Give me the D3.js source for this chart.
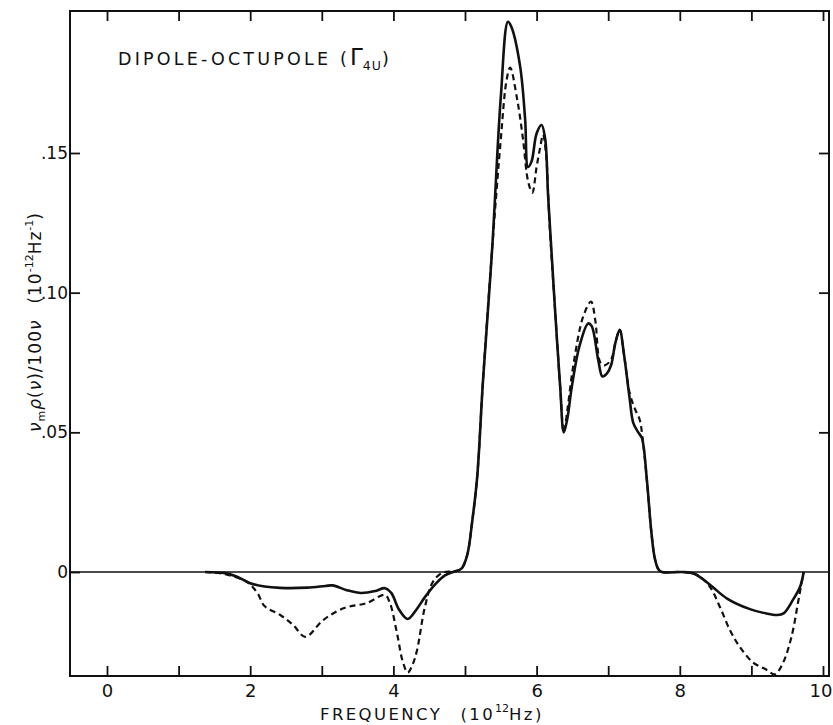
<!DOCTYPE html>
<html>
<head>
<meta charset="utf-8">
<script src="https://cdn.jsdelivr.net/npm/d3@7"></script>
<style>
  body { margin: 0; background: #fff; }
  text { font-family: "DejaVu Sans", sans-serif; fill: #111; }
</style>
</head>
<body>
<svg id="chart" width="833" height="725"></svg>
<script>
// frequency (10^12 Hz) and value for the solid curve
const solidFreq = [1.37, 1.65, 1.8, 2.0, 2.2, 2.42, 2.8, 3.05, 3.15, 3.35, 3.55, 3.75, 3.88, 3.97,
  4.08, 4.2, 4.32, 4.44, 4.58, 4.72, 4.85, 4.95, 5.03, 5.1, 5.17, 5.25, 5.38, 5.5, 5.6, 5.65,
  5.77, 5.84, 5.88, 5.93, 6.0, 6.07, 6.12, 6.16, 6.2, 6.26, 6.33, 6.38, 6.43, 6.49, 6.6, 6.72,
  6.77, 6.86, 6.92, 6.98, 7.04, 7.1, 7.16, 7.22, 7.3, 7.35, 7.42, 7.47, 7.54, 7.6, 7.65, 7.7,
  7.75, 8.04, 8.2, 8.32, 8.46, 8.66, 8.98, 9.2, 9.36, 9.45, 9.58, 9.68, 9.73];
const solidVal = [0, -0.0004, -0.0015, -0.004, -0.0052, -0.0057, -0.0056, -0.005, -0.0048, -0.0065,
  -0.0075, -0.0068, -0.0058, -0.0075, -0.0135, -0.0168, -0.0135, -0.009, -0.0045, -0.0012, 0.0002,
  0.0012, 0.006, 0.018, 0.034, 0.068, 0.116, 0.17, 0.197, 0.195, 0.181, 0.162, 0.145, 0.147, 0.157,
  0.16, 0.155, 0.135, 0.118, 0.093, 0.066, 0.05, 0.055, 0.066, 0.081, 0.089, 0.088, 0.076, 0.07,
  0.071, 0.074, 0.082, 0.0867, 0.078, 0.062, 0.0534, 0.05, 0.048, 0.033, 0.015, 0.005, 0.001, 0,
  0, -0.0006, -0.0025, -0.0054, -0.0095, -0.0133, -0.0148, -0.0154, -0.0148, -0.01, -0.0053, 0];

// dashed curve
const dashedFreq = [1.37, 1.65, 1.95, 2.1, 2.2, 2.42, 2.6, 2.77, 3.02, 3.3, 3.63, 3.88, 3.95, 4.05,
  4.13, 4.2, 4.27, 4.33, 4.44, 4.55, 4.69, 4.85, 4.95, 5.03, 5.1, 5.17, 5.25, 5.38, 5.5, 5.58, 5.63,
  5.73, 5.81, 5.88, 5.94, 6.0, 6.05, 6.09, 6.13, 6.18, 6.26, 6.33, 6.38, 6.43, 6.51, 6.65, 6.76,
  6.82, 6.89, 6.95, 7.04, 7.1, 7.16, 7.22, 7.3, 7.38, 7.44, 7.48, 7.54, 7.6, 7.65, 7.7, 7.75, 8.04,
  8.24, 8.42, 8.56, 8.7, 8.84, 9.02, 9.21, 9.33, 9.44, 9.56, 9.65, 9.7, 9.73];
const dashedVal = [0, -0.0008, -0.0035, -0.0075, -0.0122, -0.0154, -0.019, -0.0232, -0.0172, -0.013,
  -0.0111, -0.0082, -0.011, -0.0219, -0.032, -0.036, -0.033, -0.028, -0.0125, -0.0036, -0.0002,
  0.0002, 0.0012, 0.006, 0.018, 0.034, 0.068, 0.116, 0.155, 0.176, 0.1806, 0.169, 0.155, 0.14,
  0.1358, 0.145, 0.152, 0.1566, 0.15, 0.125, 0.093, 0.066, 0.05, 0.058, 0.0735, 0.0914, 0.0968,
  0.09, 0.075, 0.074, 0.076, 0.082, 0.0867, 0.078, 0.064, 0.058, 0.0545, 0.048, 0.033, 0.015,
  0.005, 0.001, 0, 0, -0.001, -0.0053, -0.0125, -0.0208, -0.0269, -0.0323, -0.035, -0.0366,
  -0.0326, -0.0232, -0.0111, -0.004, 0];

const xTicks = [0, 1, 2, 3, 4, 5, 6, 7, 8, 9, 10];
const xTickLabels = ['0', '2', '4', '6', '8', '10'];
const yTicks = [0.05, 0.10, 0.15];
const yTickLabels = ['0', '.05', '.10', '.15'];

const FRAME = {left: 70, right: 829, top: 11, bottom: 676};
const TICK_LEN = 10;

const svg = d3.select('#chart');

const x = d3.scaleLinear().domain([0, 10]).range([107, 823]);
const y = d3.scaleLinear().domain([0, 0.15]).range([572, 153]);

// frame
svg.append('rect')
    .attr('x', FRAME.left)
    .attr('y', FRAME.top)
    .attr('width', FRAME.right - FRAME.left)
    .attr('height', FRAME.bottom - FRAME.top)
    .attr('fill', 'none')
    .attr('stroke', '#111')
    .attr('stroke-width', 2);

// zero line
svg.append('line')
    .attr('x1', FRAME.left).attr('x2', FRAME.right)
    .attr('y1', y(0)).attr('y2', y(0))
    .attr('stroke', '#111').attr('stroke-width', 1.6);

// bottom and top ticks (inward)
svg.append('g')
    .attr('transform', `translate(0,${FRAME.bottom})`)
    .call(d3.axisBottom(x).tickValues(xTicks).tickSizeInner(-TICK_LEN).tickSizeOuter(0)
        .tickFormat(d => (d % 2 === 0 ? xTickLabels[d / 2] : '')))
    .call(g => g.select('.domain').remove())
    .call(g => g.selectAll('line').attr('stroke', '#111').attr('stroke-width', 1.8))
    .call(g => g.selectAll('text').attr('font-size', 18).attr('dy', '1.05em').attr('y', 2))
    // the last label sits at the right edge, keep it inside
    .call(g => g.selectAll('text').filter(d => d === 10).attr('text-anchor', 'end').attr('x', 9));

svg.append('g')
    .attr('transform', `translate(0,${FRAME.top})`)
    .call(d3.axisTop(x).tickValues(xTicks).tickSizeInner(-TICK_LEN).tickSizeOuter(0).tickFormat(''))
    .call(g => g.select('.domain').remove())
    .call(g => g.selectAll('line').attr('stroke', '#111').attr('stroke-width', 1.8));

// left and right ticks (inward)
svg.append('g')
    .attr('transform', `translate(${FRAME.left},0)`)
    .call(d3.axisLeft(y).tickValues([0].concat(yTicks)).tickSizeInner(-TICK_LEN).tickSizeOuter(0)
        .tickFormat((d, i) => yTickLabels[i]))
    .call(g => g.select('.domain').remove())
    .call(g => g.selectAll('line').attr('stroke', '#111').attr('stroke-width', 1.8))
    .call(g => g.selectAll('text').attr('font-size', 17).attr('x', -2));

svg.append('g')
    .attr('transform', `translate(${FRAME.right},0)`)
    .call(d3.axisRight(y).tickValues(yTicks).tickSizeInner(-TICK_LEN).tickSizeOuter(0).tickFormat(''))
    .call(g => g.select('.domain').remove())
    .call(g => g.selectAll('line').attr('stroke', '#111').attr('stroke-width', 1.8));

// curves
const line = d3.line()
    .x(d => x(d[0]))
    .y(d => y(d[1]))
    .curve(d3.curveCatmullRom.alpha(0.5));

svg.append('path')
    .datum(dashedFreq.map((f, i) => [f, dashedVal[i]]))
    .attr('d', line)
    .attr('fill', 'none')
    .attr('stroke', '#111')
    .attr('stroke-width', 2.2)
    .attr('stroke-dasharray', '6,4');

svg.append('path')
    .datum(solidFreq.map((f, i) => [f, solidVal[i]]))
    .attr('d', line)
    .attr('fill', 'none')
    .attr('stroke', '#111')
    .attr('stroke-width', 2.6);

// title inside plot
const title = svg.append('text')
    .attr('x', 118)
    .attr('y', 65)
    .attr('font-size', 17.5)
    .attr('letter-spacing', 3.2);
title.append('tspan').text('DIPOLE-OCTUPOLE (');
title.append('tspan').attr('font-size', 23).attr('letter-spacing', 0).text('Γ');
title.append('tspan').attr('font-size', 12.5).attr('dy', 5).attr('letter-spacing', 1).text('4U');
title.append('tspan').attr('dy', -5).text(')');

// x axis label
const xLabel = svg.append('text')
    .attr('x', 320)
    .attr('y', 720)
    .attr('font-size', 16.5)
    .attr('letter-spacing', 2.4);
xLabel.append('tspan').text('FREQUENCY\u2002 (10');
xLabel.append('tspan').attr('font-size', 11).attr('dy', -8).attr('letter-spacing', 0).text('12');
xLabel.append('tspan').attr('dy', 8).text('Hz)');

// y axis label
const yLabel = svg.append('text')
    .attr('transform', 'translate(41,322) rotate(-90)')
    .attr('text-anchor', 'middle')
    .attr('font-size', 17)
    .attr('letter-spacing', 1);
yLabel.append('tspan').attr('font-style', 'italic').text('ν');
yLabel.append('tspan').attr('font-size', 11).attr('dy', 4).text('m');
yLabel.append('tspan').attr('dy', -4).attr('font-style', 'italic').text('ρ');
yLabel.append('tspan').text('(');
yLabel.append('tspan').attr('font-style', 'italic').text('ν');
yLabel.append('tspan').text(')/100');
yLabel.append('tspan').attr('font-style', 'italic').text('ν');
yLabel.append('tspan').text('\u2002 (10');
yLabel.append('tspan').attr('font-size', 11).attr('dy', -8).attr('letter-spacing', 0).text('-12');
yLabel.append('tspan').attr('dy', 8).text('Hz');
yLabel.append('tspan').attr('font-size', 11).attr('dy', -8).attr('letter-spacing', 0).text('-1');
yLabel.append('tspan').attr('dy', 8).text(')');
</script>
</body>
</html>
